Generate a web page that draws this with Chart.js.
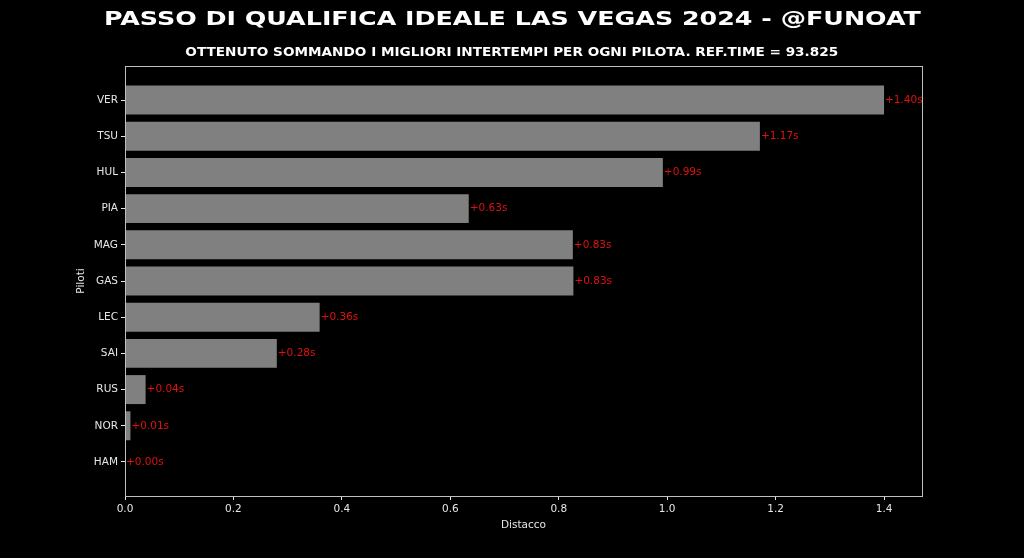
<!DOCTYPE html>
<html>
<head>
<meta charset="utf-8">
<script src="https://cdn.jsdelivr.net/npm/chart.js@4.4.0/dist/chart.umd.min.js"></script>
<style>
  html, body { margin: 0; padding: 0; background: #000; }
  #wrap { position: relative; width: 1024px; height: 558px; overflow: hidden; }
  #wrap canvas { position: absolute; left: 0; top: 0; }
  .ttl {
    position: absolute; left: 0; width: 1024px; text-align: center;
    color: #fff; font-family: "DejaVu Sans", sans-serif; font-weight: bold;
    white-space: nowrap; line-height: 1;
  }
  .ttl span { display: inline-block; transform-origin: 50% 50%; }
  #t1 { top: 8px; font-size: 20px; }
  #t2 { top: 46px; font-size: 12.5px; }
</style>
</head>
<body>
<div id="wrap">
  <canvas id="chart" width="1024" height="558"></canvas>
  <div class="ttl" id="t1"><span data-w="817">PASSO DI QUALIFICA IDEALE LAS VEGAS 2024 - @FUNOAT</span></div>
  <div class="ttl" id="t2"><span data-w="653">OTTENUTO SOMMANDO I MIGLIORI INTERTEMPI PER OGNI PILOTA. REF.TIME = 93.825</span></div>
</div>
<script>
'use strict';

// ── dati ──────────────────────────────────────────────
const drivers = ['VER', 'TSU', 'HUL', 'PIA', 'MAG', 'GAS', 'LEC', 'SAI', 'RUS', 'NOR', 'HAM'];
const gaps    = [1.400, 1.171, 0.992, 0.634, 0.826, 0.827, 0.359, 0.280, 0.038, 0.010, 0.000];
const xTicks  = [0, 0.2, 0.4, 0.6, 0.8, 1.0, 1.2, 1.4];

const TXT  = '#e6e6e6';
const EDGE = '#bfbfbf';
const FONT = { family: 'DejaVu Sans', size: 10.5 };

// titoli: stira il testo fino alla larghezza voluta (font "largo")
document.querySelectorAll('.ttl span').forEach(sp => {
  const target = +sp.dataset.w;
  const natural = sp.getBoundingClientRect().width;
  sp.style.transform = `scaleX(${(target / natural).toFixed(3)})`;
});

// cornice attorno all'area del grafico
const framePlugin = {
  id: 'frame',
  afterDraw(chart) {
    const { ctx, chartArea: a } = chart;
    ctx.save();
    ctx.strokeStyle = EDGE;
    ctx.lineWidth = 1;
    ctx.strokeRect(a.left + 0.5, a.top + 0.5, a.right - a.left, a.bottom - a.top);
    ctx.restore();
  }
};

// etichette rosse a fine barra
const gapLabels = {
  id: 'gapLabels',
  afterDatasetsDraw(chart) {
    const { ctx } = chart;
    const meta = chart.getDatasetMeta(0);
    ctx.save();
    ctx.fillStyle = '#e01010';
    ctx.font = `${FONT.size}px "${FONT.family}"`;
    ctx.textAlign = 'left';
    ctx.textBaseline = 'middle';
    meta.data.forEach((bar, i) => {
      ctx.fillText('+' + gaps[i].toFixed(2) + 's', bar.x + 1, bar.y);
    });
    ctx.restore();
  }
};

new Chart(document.getElementById('chart'), {
  type: 'bar',
  data: {
    datasets: [{
      data: drivers.map((d, i) => ({ x: gaps[i], y: i })),
      backgroundColor: '#808080',
      borderWidth: 0,
      categoryPercentage: 1,
      barPercentage: 0.8,
    }]
  },
  options: {
    indexAxis: 'y',
    responsive: false,
    animation: false,
    layout: { padding: { left: 75, top: 66, right: 102, bottom: 26 } },
    plugins: {
      legend: { display: false },
      tooltip: { enabled: false },
    },
    scales: {
      x: {
        type: 'linear',
        min: 0,
        max: 1.47,
        afterBuildTicks: s => { s.ticks = xTicks.map(v => ({ value: v })); },
        afterFit: s => { s.height = 36; },
        ticks: { callback: v => v.toFixed(1), color: TXT, font: FONT, padding: 3, maxRotation: 0 },
        grid: { drawOnChartArea: false, tickLength: 4, tickColor: TXT },
        border: { color: EDGE },
        title: { display: true, text: 'Distacco', color: TXT, font: FONT, padding: 0 },
      },
      y: {
        type: 'linear',
        reverse: true,
        offset: false,
        min: -0.94,
        max: 10.94,
        afterBuildTicks: s => { s.ticks = drivers.map((d, i) => ({ value: i })); },
        afterFit: s => { s.width = 50; },
        ticks: { callback: v => drivers[v], color: TXT, font: FONT, padding: 3, autoSkip: false },
        grid: { offset: false, drawOnChartArea: false, tickLength: 4, tickColor: TXT },
        border: { color: EDGE },
        title: { display: true, text: 'Piloti', color: TXT, font: FONT, padding: 0 },
      }
    }
  },
  plugins: [framePlugin, gapLabels]
});
</script>
</body>
</html>
